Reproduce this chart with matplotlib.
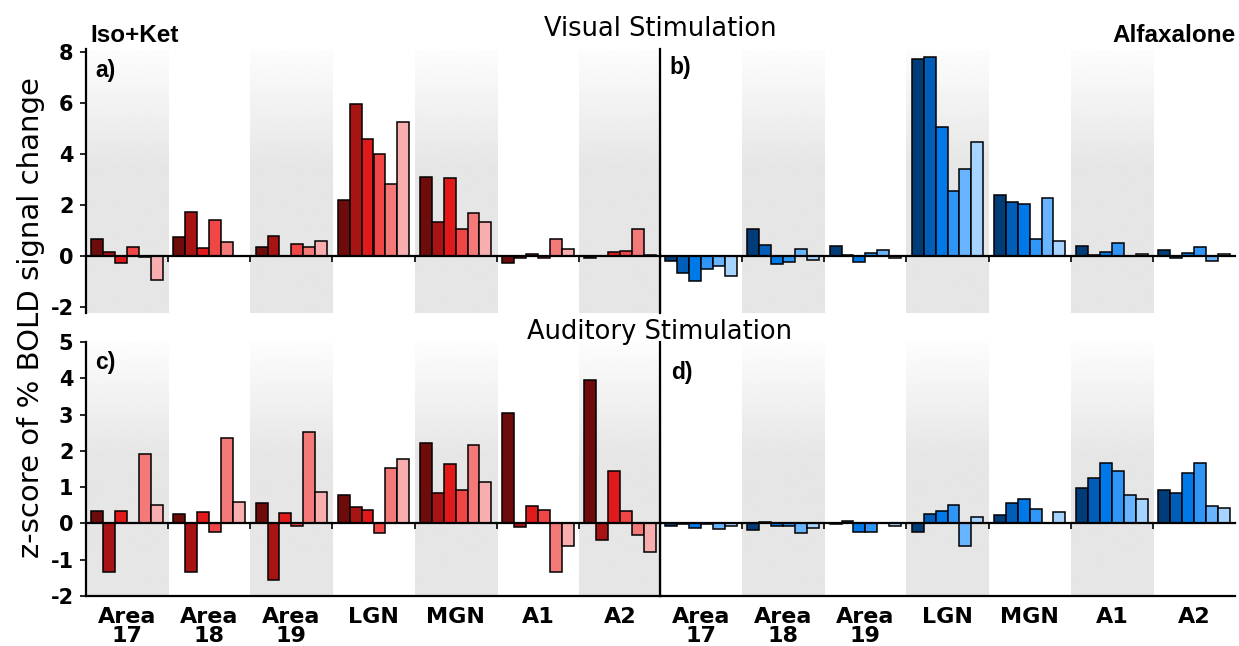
import matplotlib
matplotlib.use("Agg")
import matplotlib.pyplot as plt
import numpy as np

plt.rcParams["axes.unicode_minus"] = False

# regions of interest on the x axis
regions = ["Area\n17", "Area\n18", "Area\n19", "LGN", "MGN", "A1", "A2"]

# z-score of % BOLD signal change, 6 bars per region
visual_isoket = [
    [0.64, 0.13, -0.30, 0.33, -0.07, -0.95],
    [0.73, 1.71, 0.29, 1.41, 0.52, 0.0],
    [0.34, 0.78, 0.0, 0.46, 0.35, 0.58],
    [2.17, 5.93, 4.58, 3.97, 2.80, 5.24],
    [3.07, 1.33, 3.03, 1.05, 1.69, 1.33],
    [-0.29, -0.08, 0.07, -0.10, 0.65, 0.26],
    [-0.10, -0.02, 0.13, 0.17, 1.05, 0.02],
]
visual_alfax = [
    [-0.20, -0.69, -0.99, -0.54, -0.39, -0.78],
    [1.06, 0.41, -0.33, -0.27, 0.26, -0.18],
    [0.37, 0.03, -0.27, 0.09, 0.21, -0.10],
    [7.70, 7.78, 5.06, 2.54, 3.40, 4.46],
    [2.39, 2.10, 2.04, 0.64, 2.26, 0.59],
    [0.38, 0.02, 0.13, 0.51, -0.02, 0.08],
    [0.21, -0.08, 0.12, 0.33, -0.20, 0.08],
]
auditory_isoket = [
    [0.35, -1.34, 0.33, 0.0, 1.92, 0.50],
    [0.25, -1.34, 0.31, -0.24, 2.35, 0.58],
    [0.57, -1.55, 0.29, -0.06, 2.51, 0.87],
    [0.78, 0.45, 0.38, -0.26, 1.53, 1.78],
    [2.23, 0.84, 1.64, 0.92, 2.16, 1.13],
    [3.04, -0.11, 0.48, 0.38, -1.33, -0.61],
    [3.96, -0.45, 1.44, 0.33, -0.32, -0.80],
]
auditory_alfax = [
    [-0.08, -0.02, -0.12, -0.02, -0.14, -0.06],
    [-0.17, 0.05, -0.06, -0.07, -0.25, -0.13],
    [-0.01, 0.06, -0.24, -0.24, 0.0, -0.07],
    [-0.24, 0.26, 0.35, 0.51, -0.62, 0.18],
    [0.24, 0.55, 0.67, 0.41, 0.0, 0.32],
    [0.98, 1.25, 1.67, 1.44, 0.77, 0.67],
    [0.92, 0.85, 1.39, 1.66, 0.47, 0.43],
]

reds = ["#6e0c0c", "#a81313", "#e01a1a", "#f04646", "#f47a7a", "#f8aeae"]
blues = ["#003c78", "#005eb8", "#0079e8", "#2f96f7", "#68b4ff", "#a6d3ff"]

BAR_W = 0.145
BAR_OFF = 0.065
BOLD = {"family": "DejaVu Sans", "weight": "bold"}


def shade_bands(ax, ylim, first_gray):
    # gray gradient bands behind every other region
    n = 200
    frac = np.linspace(0, 1, n)
    grad = np.where(frac < 0.45, 0.99 - (0.99 - 0.9) * frac / 0.45, 0.9)
    grad = grad.reshape(-1, 1)
    for i in range(len(regions)):
        if (i % 2 == 0) == first_gray:
            ax.imshow(grad, extent=(i, i + 1, ylim[0], ylim[1]), aspect="auto",
                      cmap="gray", vmin=0, vmax=1, zorder=0, interpolation="bilinear")


def draw_panel(ax, values, colors, ylim, first_gray, left_labels, bottom_labels):
    shade_bands(ax, ylim, first_gray)
    for i, group in enumerate(values):
        for j, v in enumerate(group):
            ax.bar(i + BAR_OFF + (j + 0.5) * BAR_W, v, width=BAR_W, color=colors[j],
                   edgecolor="black", linewidth=1.1, zorder=2)
    ax.set_xlim(0, len(regions))
    ax.set_ylim(*ylim)
    ax.patch.set_alpha(0)
    for s in ["top", "right"]:
        ax.spines[s].set_visible(False)
    ax.spines["left"].set_linewidth(1.6)
    ax.spines["bottom"].set_linewidth(1.6)
    ax.spines["bottom"].set_position(("data", 0))
    ax.spines["bottom"].set_zorder(3)
    ax.set_xticks(np.arange(1, len(regions)))
    ax.tick_params(axis="x", length=4, width=1.2, labelbottom=False)
    if left_labels:
        ax.tick_params(axis="y", length=4, width=1.2, pad=5)
        for lab in ax.get_yticklabels():
            lab.set_fontproperties(BOLD)
            lab.set_fontsize(15)
    else:
        ax.tick_params(axis="y", left=False, labelleft=False)
    if bottom_labels:
        sec = ax.secondary_xaxis("bottom")
        sec.set_xticks(np.arange(len(regions)) + 0.5)
        sec.set_xticklabels(regions, fontdict=BOLD, fontsize=16, linespacing=0.95)
        sec.tick_params(length=0, pad=8)
        sec.spines["bottom"].set_linewidth(1.6)


fig = plt.figure(figsize=(12.39, 6.46), dpi=100)

left_x, right_x, width = 86 / 1239, 660 / 1239, 575 / 1239
top_y, top_h = 1 - 313 / 646, 264 / 646
bot_y, bot_h = 1 - 596 / 646, 254 / 646

ylim_top = (-2.25, 8.1)
ylim_bot = (-2.0, 5.0)

ax_a = fig.add_axes([left_x, top_y, width, top_h])
ax_b = fig.add_axes([right_x, top_y, width, top_h])
ax_c = fig.add_axes([left_x, bot_y, width, bot_h])
ax_d = fig.add_axes([right_x, bot_y, width, bot_h])

ax_a.set_yticks([-2, 0, 2, 4, 6, 8])
ax_c.set_yticks([-2, -1, 0, 1, 2, 3, 4, 5])

draw_panel(ax_a, visual_isoket, reds, ylim_top, True, True, False)
draw_panel(ax_b, visual_alfax, blues, ylim_top, False, False, False)
draw_panel(ax_c, auditory_isoket, reds, ylim_bot, True, True, True)
draw_panel(ax_d, auditory_alfax, blues, ylim_bot, False, False, True)

# panel letters
for ax, lab, (x, y) in [(ax_a, "a)", (0.016, 0.917)), (ax_b, "b)", (0.017, 0.93)),
                        (ax_c, "c)", (0.016, 0.921)), (ax_d, "d)", (0.019, 0.878))]:
    ax.text(x, y, lab, transform=ax.transAxes, ha="left", va="center",
            fontsize=16.5, fontweight="bold", family="Liberation Sans", zorder=5)

fig.text(660 / 1239, 1 - 29 / 646, "Visual Stimulation", ha="center", va="center", fontsize=18.5)
fig.text(660 / 1239, 1 - 332 / 646, "Auditory Stimulation", ha="center", va="center", fontsize=18.5)
fig.text(90 / 1239, 1 - 36 / 646, "Iso+Ket", ha="left", va="center", fontsize=17.5,
         fontweight="bold", family="Liberation Sans")
fig.text(1236 / 1239, 1 - 36 / 646, "Alfaxalone", ha="right", va="center", fontsize=17.5,
         fontweight="bold", family="Liberation Sans")
fig.text(31 / 1239, 1 - 318 / 646, "z-score of % BOLD signal change", ha="center", va="center",
         rotation=90, fontsize=21)

fig.savefig("out.png", dpi=100)
